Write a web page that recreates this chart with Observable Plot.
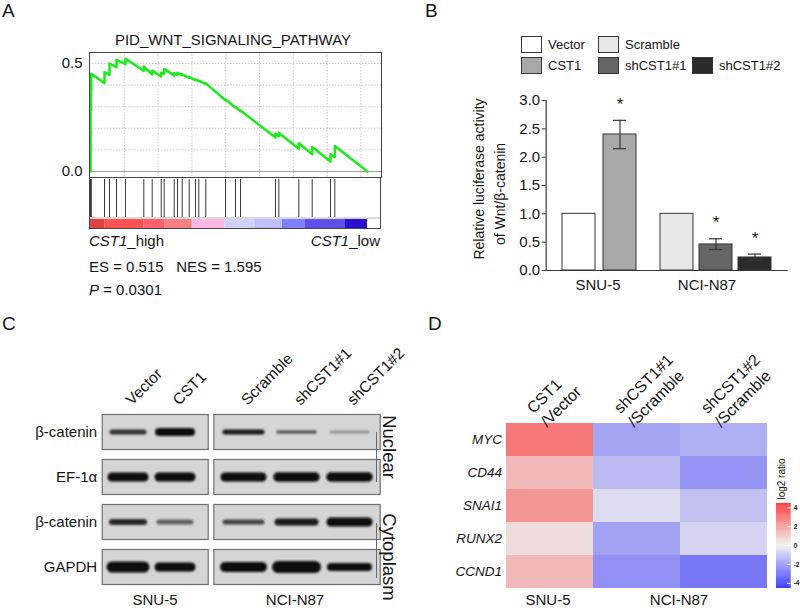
<!DOCTYPE html>
<html>
<head>
<meta charset="utf-8">
<script src="https://cdn.jsdelivr.net/npm/d3@7"></script>
<script src="https://cdn.jsdelivr.net/npm/@observablehq/plot@0.6"></script>
<style>
  html, body { margin: 0; padding: 0; background: #ffffff; }
  #fig { position: relative; width: 800px; height: 608px; overflow: hidden; background: #fff;
         font-family: "Liberation Sans", Arial, Helvetica, sans-serif; color: #151515; }
  #fig .abs { position: absolute; }
  #fig .t { position: absolute; white-space: pre; line-height: 1; }
  #fig svg { display: block; }
</style>
</head>
<body>
<div id="fig"></div>
<script>
// ================= DATA =================
// Panel A: GSEA running enrichment score
const esRank  = [0,2,2,12,12,21,21,414,414,562,562,769,769,1036,1036,1577,1577,1825,1825,2092,2092,2180,2180,2476,2476,2574,2574,2713,2713,2920,2920,3107,3107,3204,3204,3411,3411,3994,3994,4290,4290,4438,4438,5473,5473,5571,5571,6163,6163,6559,6559,7101,7101,7228,7228,8195];
const esScore = [0,0,0.286,0.284,0.375,0.373,0.452,0.41,0.46,0.447,0.50,0.483,0.517,0.497,0.522,0.466,0.486,0.449,0.467,0.440,0.458,0.452,0.475,0.444,0.455,0.447,0.457,0.446,0.450,0.434,0.437,0.423,0.426,0.418,0.421,0.405,0.408,0.330,0.333,0.295,0.298,0.279,0.282,0.157,0.175,0.163,0.178,0.105,0.131,0.079,0.113,0.046,0.080,0.066,0.118,0];
const hitRank = [2,12,21,414,562,769,1036,1577,1825,2092,2180,2476,2574,2713,2920,3107,3204,3411,3994,4290,4438,5473,5571,6163,6559,7101,7228];
const rankBarStart  = [0,423,1577,2198,3009,3973,4861,5672,6361,7544];
const rankBarEnd    = [423,1577,2198,3009,3973,4861,5672,6361,7544,8195];
const rankBarMetric = [1.0,0.85,0.7,0.55,0.25,-0.25,-0.35,-0.6,-0.8,-1.0];

// Panel B: luciferase activity
const bConditions = ["Vector","CST1","Scramble","shCST1#1","shCST1#2"];
const bCellLine   = ["SNU-5","SNU-5","NCI-N87","NCI-N87","NCI-N87"];
const bValues     = [1.0, 2.4, 1.0, 0.46, 0.23];
const bErrLow     = [null, 2.15, null, 0.37, 0.18];
const bErrHigh    = [null, 2.65, null, 0.56, 0.29];
const bSignif     = ["", "*", "", "*", "*"];
const bCellLines  = ["SNU-5","NCI-N87"];

// Panel C: western blot band estimates
const blotLanes     = ["Vector","CST1","Scramble","shCST1#1","shCST1#2"];
const blotLaneLine  = ["SNU-5","SNU-5","NCI-N87","NCI-N87","NCI-N87"];
const blotRows      = ["bcat-nuclear","EF-1a","bcat-cytoplasm","GAPDH"];
const blotRowLabels = ["β-catenin","EF-1α","β-catenin","GAPDH"];
const bandThickness = [[5,8,5,3.5,3],[9,9,9,9.5,9.5],[6,5,5,7,9],[11,9,10,12,8]];
const bandDarkness  = [[0.8,1,0.9,0.6,0.3],[1,1,1,1,1],[0.85,0.55,0.7,0.9,1],[1,1,1,1,1]];

// Panel D: heatmap of log2 ratios
const hmGenes        = ["MYC","CD44","SNAI1","RUNX2","CCND1"];
const hmComparisons  = ["CST1/Vector","shCST1#1/Scramble","shCST1#2/Scramble"];
const hmColumnLabels = ["CST1\n/Vector","shCST1#1\n/Scramble","shCST1#2\n/Scramble"];
const hmLog2 = [[2.23,-1.40,-1.20],[1.00,-0.95,-1.70],[1.66,-0.34,-0.87],[0.34,-1.44,-0.49],[1.00,-1.78,-2.23]];
const hmTicks = [-4,-2,0,2,4];

// ================= HELPERS =================
const fig = document.getElementById("fig");
const FONT = '"Liberation Sans", Arial, Helvetica, sans-serif';
const S = (extra = {}) => ({background: "transparent", fontFamily: FONT, overflow: "visible", maxWidth: "none", color: "#151515", ...extra});
function place(node, left, top) {
  const d = document.createElement("div");
  d.className = "abs"; d.style.left = left + "px"; d.style.top = top + "px";
  d.style.width = node.getAttribute("width") + "px";
  d.appendChild(node); fig.appendChild(d); return node;
}
function txt(html, x, baseline, size, anchor = "start") {
  const d = document.createElement("div");
  d.className = "t"; d.innerHTML = html; d.style.fontSize = size + "px";
  d.style.left = x + "px"; d.style.top = (baseline - 0.8465 * size) + "px";
  if (anchor === "middle") d.style.transform = "translateX(-50%)";
  if (anchor === "end") d.style.transform = "translateX(-100%)";
  fig.appendChild(d); return d;
}
function vtxt(html, cx, cy, size, deg) {
  const d = document.createElement("div");
  d.className = "t"; d.innerHTML = html; d.style.fontSize = size + "px";
  d.style.left = cx + "px"; d.style.top = cy + "px";
  d.style.transform = `translate(-50%,-50%) rotate(${deg}deg)`;
  fig.appendChild(d); return d;
}
function box(left, top, w, h, css) {
  const d = document.createElement("div");
  d.className = "abs";
  Object.assign(d.style, {left: left + "px", top: top + "px", width: w + "px", height: h + "px", boxSizing: "border-box"}, css);
  fig.appendChild(d); return d;
}
let blurId = 0;
function blurTicks(svg, sd) {
  const ns = "http://www.w3.org/2000/svg";
  const id = "bandblur" + (blurId++);
  const defs = document.createElementNS(ns, "defs");
  defs.innerHTML = `<filter id="${id}" x="-30%" y="-200%" width="160%" height="500%"><feGaussianBlur stdDeviation="${sd}"/></filter>`;
  svg.insertBefore(defs, svg.firstChild);
  svg.querySelectorAll('g[aria-label="tick"]').forEach(g => g.setAttribute("filter", `url(#${id})`));
}

// ================= PANEL A =================
const xRank = {domain: [-30, 8609], axis: null};
const esData = esRank.map((r, i) => ({rank: r, es: esScore[i]}));
place(Plot.plot({
  width: 400, height: 178, marginLeft: 89, marginRight: 19, marginTop: 52, marginBottom: 1,
  x: xRank, y: {domain: [-0.028, 0.551]},
  style: S({fontSize: "15px"}),
  marks: [
    Plot.gridX({ticks: d3.range(1000, 8609, 1000), stroke: "#c9c9c9", strokeOpacity: 1, strokeDasharray: "1.5,1.5"}),
    Plot.gridY({ticks: [0.1, 0.2, 0.3, 0.4, 0.5], stroke: "#c9c9c9", strokeOpacity: 1, strokeDasharray: "1.5,1.5"}),
    Plot.ruleY([0], {stroke: "#9a9a9a", strokeWidth: 1}),
    Plot.line(esData, {x: "rank", y: "es", stroke: "#19ec19", strokeWidth: 2.5}),
    Plot.axisY({ticks: [0, 0.5], tickFormat: ".1f", tickSize: 0, tickPadding: 7, fontSize: 15, label: null}),
    Plot.frame({stroke: "#444"})
  ]
}), 0, 0);

place(Plot.plot({
  width: 400, height: 40, marginLeft: 89, marginRight: 19, marginTop: 0, marginBottom: 0,
  x: xRank, style: S(),
  marks: [Plot.ruleX(hitRank, {stroke: "#3a3a3a", strokeWidth: 1, insetTop: 2})]
}), 0, 177);

const rankBars = rankBarStart.map((s, i) => ({x1: s, x2: rankBarEnd[i], m: rankBarMetric[i]}));
place(Plot.plot({
  width: 400, height: 9, marginLeft: 89, marginRight: 19, marginTop: 0, marginBottom: 0,
  x: xRank, y: {axis: null},
  color: {type: "linear", interpolate: "rgb",
          domain: [-1.0, -0.8, -0.6, -0.35, -0.25, 0.25, 0.55, 0.7, 0.85, 1.0],
          range: ["#2a10d0","#6050e8","#8080ff","#c0c0ff","#d0d0f8","#ffb8e4","#f88080","#ff6070","#ff5252","#e24242"]},
  style: S(),
  marks: [Plot.rect(rankBars, {x1: "x1", x2: "x2", fill: "m"})]
}), 0, 219);
box(89, 217, 292, 2, {background: "#d9d9d9"});
box(89, 177, 292, 52, {border: "1px solid #444"});

txt("A", 2, 17, 19);
txt("PID_WNT_SIGNALING_PATHWAY", 233, 45, 15, "middle");
txt("<i>CST1</i>_high", 89, 246, 15);
txt("<i>CST1</i>_low", 380, 246, 15, "end");
txt("ES = 0.515   NES = 1.595", 89, 272, 15);
txt("<i>P</i> = 0.0301", 89, 295, 15);

// ================= PANEL B =================
const bRows = bConditions.map((c, i) => ({cond: c, line: bCellLine[i], value: bValues[i], lo: bErrLow[i], hi: bErrHigh[i], sig: bSignif[i]}));
const bColor = {domain: bConditions, range: ["#ffffff", "#a8a8a8", "#e8e8e8", "#666666", "#2b2b2b"]};
function barPanel(line, left, width, mLeft, mRight, xopts, withAxis) {
  const rows = bRows.filter(d => d.line === line);
  const err = rows.filter(d => d.lo != null);
  const marks = [
    Plot.barY(rows, {x: "cond", y: "value", fill: "cond", stroke: "#363636", strokeWidth: 1}),
    Plot.ruleX(err, {x: "cond", y1: "lo", y2: "hi", stroke: "#363636", strokeWidth: 1.2}),
    Plot.tickY(err, {x: "cond", y: "lo", stroke: "#363636", strokeWidth: 1.2, insetLeft: 10, insetRight: 10}),
    Plot.tickY(err, {x: "cond", y: "hi", stroke: "#363636", strokeWidth: 1.2, insetLeft: 10, insetRight: 10}),
    Plot.text(err, {x: "cond", y: "hi", text: "sig", dy: -16, fontSize: 17}),
    Plot.ruleY([0], {stroke: "#363636", strokeWidth: 1.2})
  ];
  if (withAxis) {
    marks.push(Plot.axisY({ticks: d3.range(0, 3.01, 0.5), tickFormat: ".1f", tickSize: 4, tickPadding: 2, fontSize: 15, label: null, stroke: "#363636"}));
    marks.push(Plot.frame({anchor: "left", stroke: "#363636", strokeWidth: 1.2}));
  }
  return place(Plot.plot({
    width, height: 300, marginLeft: mLeft, marginRight: mRight, marginTop: 100, marginBottom: 30,
    x: {axis: null, ...xopts},
    y: withAxis ? {domain: [0, 3]} : {domain: [0, 3], axis: null},
    color: bColor, style: S({fontSize: "15px"}), marks
  }), left, 0);
}
barPanel("SNU-5", 400, 252, 145.7, 0, {domain: ["Vector", "CST1"], paddingInner: 0.2, paddingOuter: 0.386, align: 0.5}, true);
barPanel("NCI-N87", 652, 148, 0, 12.3, {domain: ["Scramble", "shCST1#1", "shCST1#2"], paddingInner: 0.162, paddingOuter: 0.289, align: 0.3}, false);

txt("B", 425, 17, 19);
// legend
const legendItems = [
  {label: "Vector", fill: "#ffffff", x: 521, y: 36},
  {label: "Scramble", fill: "#e8e8e8", x: 598, y: 36},
  {label: "CST1", fill: "#a8a8a8", x: 521, y: 57},
  {label: "shCST1#1", fill: "#666666", x: 598, y: 57},
  {label: "shCST1#2", fill: "#2b2b2b", x: 692, y: 57}
];
legendItems.forEach(it => {
  box(it.x, it.y, 21, 17, {background: it.fill, border: "1px solid #363636"});
  txt(it.label, it.x + 27, it.y + 13.3, 13);
});
vtxt("Relative luciferase activity", 478.5, 178.5, 14, -90);
vtxt("of Wnt/β-catenin", 500.2, 193.5, 14, -90);
txt(bCellLines[0], 598, 290, 15, "middle");
txt(bCellLines[1], 707, 290, 15, "middle");

// ================= PANEL C =================
const bands = [];
blotRows.forEach((r, i) => blotLanes.forEach((l, j) => bands.push({row: r, lane: l, line: blotLaneLine[j], thick: bandThickness[i][j], dark: bandDarkness[i][j], shift: 0})));
const rowLabel = r => blotRowLabels[blotRows.indexOf(r)];
function blotPanel(line, left, width, mLeft, mRight, xopts, withRowAxis) {
  const data = bands.filter(d => d.line === line);
  const marks = [
    Plot.frame({fill: "#d5d5d5", stroke: "#707070", strokeWidth: 1.2}),
    Plot.tickY(data, {x: "lane", y: "shift", fy: "row", stroke: "dark", strokeWidth: "thick", strokeLinecap: "round", insetLeft: 4, insetRight: 4}),
    Plot.axisX({anchor: "top", tickRotate: -45, tickSize: 0, tickPadding: 12, fontSize: 15.5, label: null})
  ];
  if (withRowAxis) marks.push(Plot.axisFy({anchor: "left", tickSize: 0, tickPadding: 5, fontSize: 15, label: null, tickFormat: rowLabel}));
  const svg = Plot.plot({
    width, height: 290, marginLeft: mLeft, marginRight: mRight, marginTop: 113, marginBottom: 5.6,
    x: {...xopts},
    y: {domain: [-1, 1], axis: null},
    fy: withRowAxis ? {domain: blotRows, paddingInner: 0.216, paddingOuter: 0} : {domain: blotRows, paddingInner: 0.216, paddingOuter: 0, axis: null},
    color: {type: "linear", domain: [0, 1], range: ["#cccccc", "#0a0a0a"], interpolate: "rgb"},
    style: S({fontSize: "15px"}), marks
  });
  blurTicks(svg, 1.0);
  return place(svg, left, 300);
}
blotPanel("SNU-5", 0, 208, 101.7, 0.3, {domain: ["Vector", "CST1"], paddingInner: 0.15, paddingOuter: 0.1985, align: 0.34}, true);
blotPanel("NCI-N87", 208, 192, 5.3, 20.3, {domain: ["Scramble", "shCST1#1", "shCST1#2"], paddingInner: 0.15, paddingOuter: 0.1435, align: 0.5}, false);

txt("C", 2, 330, 19);
box(375.5, 432, 1.5, 50, {background: "#6a6a6a"});
box(375.5, 523, 1.5, 55, {background: "#6a6a6a"});
vtxt("Nuclear", 388.5, 447, 18.5, 90);
vtxt("Cytoplasm", 388.5, 557, 18.5, 90);
txt(bCellLines[0], 155, 605, 15, "middle");
txt(bCellLines[1], 295, 605, 15, "middle");

// ================= PANEL D =================
const hmColor = {type: "linear", interpolate: "rgb", domain: [-4.5, 0, 4.5], range: ["#0000ff", "#eeeeee", "#ff0000"], clamp: true};
const hmData = [];
hmGenes.forEach((g, i) => hmComparisons.forEach((c, j) => hmData.push({gene: g, comp: c, v: hmLog2[i][j]})));
place(Plot.plot({
  width: 400, height: 308, marginLeft: 106, marginRight: 32.7, marginTop: 123.3, marginBottom: 19.7,
  x: {domain: hmComparisons, padding: 0},
  y: {domain: hmGenes, padding: 0},
  color: hmColor,
  style: S({fontSize: "15px"}),
  marks: [
    Plot.cell(hmData, {x: "comp", y: "gene", fill: "v", inset: 0}),
    Plot.axisX({anchor: "top", tickRotate: -45, tickSize: 0, tickPadding: 7, fontSize: 16, lineHeight: 1.2, dx: -14, label: null,
                tickFormat: c => hmColumnLabels[hmComparisons.indexOf(c)]}),
    Plot.axisY({anchor: "left", tickSize: 0, tickPadding: 4.5, fontSize: 13.5, fontStyle: "italic", label: null})
  ]
}), 400, 300);

// color ramp legend
place(Plot.plot({
  width: 30, height: 100, marginLeft: 6, marginRight: 9.3, marginTop: 3, marginBottom: 12,
  x: {axis: null}, y: {domain: [-4.55, 4.45]},
  color: hmColor, style: S({fontSize: "6.5px"}),
  marks: [
    Plot.barY(d3.range(-4.55, 4.45, 0.05), {y1: d => d, y2: d => d + 0.051, fill: d => d + 0.025}),
    Plot.tickY(hmTicks, {y: d => d, stroke: "white", strokeWidth: 1, insetLeft: 11}),
    Plot.axisY({anchor: "right", ticks: hmTicks, tickSize: 0, tickPadding: 2.5, fontSize: 6.5, fontWeight: "bold", label: null, tickFormat: d => String(d)})
  ]
}), 770, 500);
vtxt("log2 ratio", 782, 479, 10, -90);

txt("D", 428, 330, 19);
txt(bCellLines[0], 548, 605, 15, "middle");
txt(bCellLines[1], 679, 605, 15, "middle");
</script>
</body>
</html>
